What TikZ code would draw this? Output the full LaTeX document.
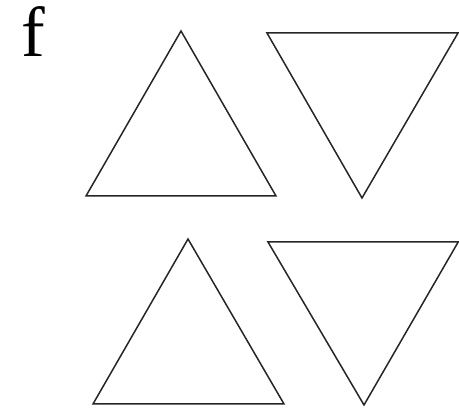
\documentclass[tikz,border=0pt]{standalone}
\usepackage{fontspec}
\setmainfont{Liberation Serif}
\usetikzlibrary{positioning}
\tikzset{
  tri/.style={draw=black!85,line width=1.5pt,line join=miter},
  panel/.style={font=\fontsize{71}{76}\selectfont,inner sep=0pt,text height=0.7em,text depth=0pt,anchor=base west}
}

\begin{document}
\begin{tikzpicture}[x=1pt,y=-1pt]
  \useasboundingbox (0,0) rectangle (459,409);
  \node[panel] (lbl) at (21,57) {f};
  % top row
  \draw[tri] (181,31) -- (276,196) -- (86,196) -- cycle;
  \draw[tri] (267,33) -- (458,33) -- (362,198) -- cycle;
  % bottom row
  \draw[tri] (188,239) -- (284,404) -- (93,404) -- cycle;
  \draw[tri] (268,242) -- (458.2,242) -- (364,405) -- cycle;
\end{tikzpicture}
\end{document}
